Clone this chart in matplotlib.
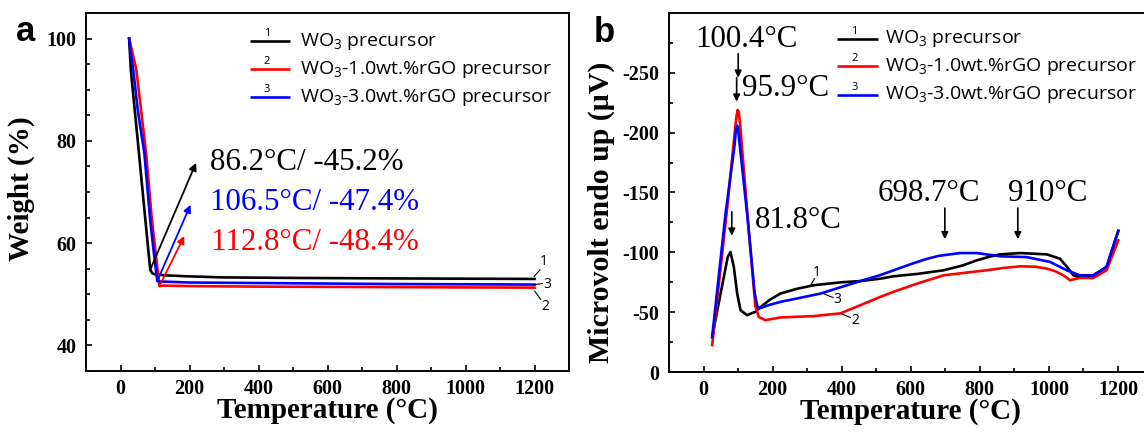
import matplotlib
matplotlib.use("Agg")
import matplotlib.pyplot as plt

SERIF = "Liberation Serif"
SANS = "Open Sans"

plt.rcParams["mathtext.fontset"] = "custom"
plt.rcParams["mathtext.rm"] = "Open Sans"
plt.rcParams["mathtext.it"] = "Open Sans"

# ---------------- (a) TGA data ----------------
tga_wo3_T = [25, 30, 50, 70, 86.2, 92, 100, 130, 200, 300, 500, 800, 1200]
tga_wo3_W = [100, 93.8, 80.0, 66.0, 54.8, 54.1, 53.9, 53.7, 53.5, 53.3, 53.2, 53.1, 53.0]

tga_rgo1_T = [25, 32, 46, 60, 74, 91, 103, 112.8, 125, 200, 400, 800, 1200]
tga_rgo1_W = [100, 98.0, 93.9, 85.8, 77.7, 64.6, 57.4, 51.6, 51.7, 51.6, 51.5, 51.4, 51.3]

tga_rgo3_T = [25, 30, 37, 50, 69, 86, 96, 106.5, 115, 200, 400, 800, 1200]
tga_rgo3_W = [100, 97.0, 93.9, 86.0, 77.7, 64.6, 58.5, 52.6, 52.5, 52.3, 52.2, 52.0, 51.9]

tga_onset_T = [86.2, 106.5, 112.8]
tga_loss = [45.2, 47.4, 48.4]

# ---------------- (b) DTA data ----------------
dta_wo3_T = [25, 47, 70, 78, 87.7, 97.4, 107, 126, 150, 160, 190, 223, 270, 319,
             400, 454, 512, 550, 620, 695, 750, 791, 830, 859, 917, 994, 1032, 1052,
             1071, 1090, 1129, 1167, 1201]
dta_wo3_V = [-29, -62, -96, -100.3, -87.8, -65.6, -51.7, -47.5, -50.3, -53, -60, -65.6,
             -69.5, -72.5, -75, -76, -78, -80, -82, -85, -89, -93.3, -96.5, -98.3, -99.4,
             -98.3, -94.7, -88, -80.8, -79, -80.8, -87.8, -118]

dta_rgo1_T = [25, 68.5, 92, 96, 99, 102, 106, 127, 150, 160, 179, 223, 319, 396,
              454, 512, 550, 620, 695, 760, 820, 870, 917, 960, 994, 1020, 1042,
              1061, 1090, 1129, 1167, 1201]
dta_rgo1_V = [-22.5, -137, -205, -215, -219, -217, -207, -132, -55, -46, -43.3, -45.6,
              -46.7, -49, -55.8, -62.8, -67, -74, -80.8, -83, -85, -87, -88.3, -88,
              -86.4, -84, -80.8, -76.7, -78.6, -78.6, -85, -110]

dta_rgo3_T = [25, 63.6, 90, 94, 97.4, 100, 104, 127, 148, 155, 160, 190, 223, 338,
              454, 512, 560, 599, 640, 680, 743, 791, 859, 936, 1003, 1052, 1090,
              1129, 1167, 1201]
dta_rgo3_V = [-29.4, -132, -190, -203, -206, -204, -192, -130, -66, -56, -53, -56,
              -58.6, -65.5, -76, -81, -86, -90, -94, -97, -99.4, -99.4, -96.7, -96,
              -92, -85, -80.8, -80.8, -87.8, -118]

dta_peak_T = [100.4, 95.9, 81.8, 698.7, 910]

# ---------------- axes ticks ----------------
x_ticks = [0, 200, 400, 600, 800, 1000, 1200]
x_minor = [-100, 100, 300, 500, 700, 900, 1100, 1300]
a_y_ticks = [40, 60, 80, 100]
a_y_minor = [35, 45, 50, 55, 65, 70, 75, 85, 90, 95, 105]
b_y_ticks = [0, -50, -100, -150, -200, -250]
b_y_minor = [-25, -75, -125, -175, -225, -275]

series_names = [r"WO$_{\mathregular{3}}$ precursor",
                r"WO$_{\mathregular{3}}$-1.0wt.%rGO precursor",
                r"WO$_{\mathregular{3}}$-3.0wt.%rGO precursor"]
series_tags = ["1", "2", "3"]
colors = ["#000000", "#ff0000", "#0000ff"]

LW = 1.9
TICKFONT = dict(fontfamily=SERIF, fontweight="bold", fontsize=14.5)
LABELFONT = dict(family=SERIF, weight="bold", fontsize=21)
NOTEFONT = dict(family=SERIF, weight="normal", fontsize=22.3)

fig = plt.figure(figsize=(11.44, 4.34), dpi=100)
axA = fig.add_axes([86 / 1144, 63 / 434, 483 / 1144, 358 / 434])
axB = fig.add_axes([669 / 1144, 62 / 434, 483.5 / 1144, 359 / 434])


def style_axis(ax, yt, ym):
    ax.set_xticks(x_ticks, labels=[str(v) for v in x_ticks], **TICKFONT)
    ax.set_xticks(x_minor, minor=True)
    ax.set_yticks(yt, labels=[str(v) for v in yt], **TICKFONT)
    ax.set_yticks(ym, minor=True)
    for sp in ax.spines.values():
        sp.set_linewidth(1.4)
    ax.tick_params(which="both", direction="in", top=False, right=False, width=1.2)
    ax.tick_params(which="major", length=4.2)
    ax.tick_params(axis="x", which="major", pad=5.5)
    ax.tick_params(axis="y", which="major", pad=7)
    ax.tick_params(which="minor", length=2.6)


def draw_legend(ax, x0, x1, xt, ys):
    for name, tag, c, y in zip(series_names, series_tags, colors, ys):
        ax.plot([x0, x1], [y, y], color=c, lw=LW, transform=ax.transAxes,
                clip_on=False, solid_capstyle="butt")
        ax.text((x0 + x1) / 2 - 0.006, y + 0.006, tag, transform=ax.transAxes,
                fontsize=8, family=SANS, weight="normal", ha="center", va="bottom")
        ax.text(xt, y, name, transform=ax.transAxes, fontsize=14, family=SANS,
                weight="normal", ha="left", va="center")


# ---------------- panel (a) ----------------
for T, W, c in zip([tga_wo3_T, tga_rgo1_T, tga_rgo3_T],
                   [tga_wo3_W, tga_rgo1_W, tga_rgo3_W], colors):
    axA.plot(T, W, color=c, lw=LW, solid_joinstyle="round")

style_axis(axA, a_y_ticks, a_y_minor)
axA.set_xlim(-100, 1300)
axA.set_ylim(35, 105)
axA.set_xlabel("Temperature (°C)", labelpad=-1, **LABELFONT)
axA.set_ylabel("Weight (%)", **LABELFONT)
axA.yaxis.set_label_coords(-0.106, 0.51)

# onset arrows and labels (black, blue, red order)
arrow_tips = [(219, 75.7), (203, 67.5), (185, 61.4)]
label_pos = [(259, 75.8), (259, 67.9), (263, 60.1)]
for i, ci in enumerate([0, 2, 1]):
    T0 = tga_onset_T[i]
    loss = tga_loss[i]
    c = colors[ci]
    axA.annotate("", xy=arrow_tips[i], xytext=(T0, 100 - loss),
                 arrowprops=dict(arrowstyle="-|>", color=c, lw=1.3,
                                 mutation_scale=11, shrinkA=0, shrinkB=0))
    axA.text(label_pos[i][0], label_pos[i][1], f"{T0}°C/ -{loss}%", color=c,
             ha="left", va="center", **NOTEFONT)

# curve tags at the right end
for tag, (p0, p1, pt) in zip(["1", "3", "2"],
                             [((1199, 53.5), (1216, 54.8), (1228, 56.5)),
                              ((1201, 51.9), (1223, 52.1), (1237, 52.0)),
                              ((1201, 50.6), (1218, 49.0), (1232, 47.7))]):
    axA.plot([p0[0], p1[0]], [p0[1], p1[1]], color="black", lw=0.8)
    axA.text(pt[0], pt[1], tag, family=SANS, weight="normal", fontsize=10,
             ha="center", va="center")

draw_legend(axA, 0.3395, 0.4224, 0.443, [0.921, 0.843, 0.765])

# ---------------- panel (b) ----------------
for T, V, c in zip([dta_wo3_T, dta_rgo1_T, dta_rgo3_T],
                   [dta_wo3_V, dta_rgo1_V, dta_rgo3_V], colors):
    axB.plot(T, V, color=c, lw=LW, solid_joinstyle="round")

style_axis(axB, b_y_ticks, b_y_minor)
axB.set_xlim(-100, 1300)
axB.set_ylim(0, -300)
axB.set_xlabel("Temperature (°C)", labelpad=-1, **LABELFONT)
axB.set_ylabel("Microvolt endo up (μV)", family=SERIF, weight="bold", fontsize=21.5)
axB.yaxis.set_label_coords(-0.112, 0.446)

arrow_kw = dict(arrowstyle="-|>", color="black", lw=1.2, mutation_scale=10,
                shrinkA=0, shrinkB=0)
# 100.4 °C
axB.annotate("", xy=(dta_peak_T[0], -246), xytext=(dta_peak_T[0], -266), arrowprops=arrow_kw)
axB.text(124, -278, f"{dta_peak_T[0]}°C", ha="center", va="center", **NOTEFONT)
# 95.9 °C
axB.annotate("", xy=(dta_peak_T[1], -226), xytext=(dta_peak_T[1], -246), arrowprops=arrow_kw)
axB.text(110, -237, f"{dta_peak_T[1]}°C", ha="left", va="center", **NOTEFONT)
# 81.8 °C
axB.annotate("", xy=(dta_peak_T[2], -114), xytext=(dta_peak_T[2], -134), arrowprops=arrow_kw)
axB.text(150, -127, f"{dta_peak_T[2]}°C", ha="left", va="center", **NOTEFONT)
# 698.7 °C and 910 °C
for T_pk, tx in zip(dta_peak_T[3:], [653, 996]):
    axB.annotate("", xy=(T_pk, -111), xytext=(T_pk, -137), arrowprops=arrow_kw)
    axB.text(tx, -149, f"{T_pk:g}°C", ha="center", va="center", **NOTEFONT)

# curve tags
for tag, (p0, p1, pt) in zip(["1", "3", "2"],
                             [((309, -71.7), (321, -78), (329, -83)),
                              ((346, -65.6), (375, -62.2), (388, -61)),
                              ((396, -49), (425, -45.6), (440, -43))]):
    axB.plot([p0[0], p1[0]], [p0[1], p1[1]], color="black", lw=0.8)
    axB.text(pt[0], pt[1], tag, family=SANS, weight="normal", fontsize=10,
             ha="center", va="center")

draw_legend(axB, 0.3475, 0.4323, 0.4468, [0.928, 0.851, 0.772])

# panel letters
fig.text(16 / 1144, 1 - 41 / 434, "a", family="Liberation Sans", weight="bold",
         fontsize=25, ha="left", va="baseline")
fig.text(594 / 1144, 1 - 42 / 434, "b", family="Liberation Sans", weight="bold",
         fontsize=25, ha="left", va="baseline")

fig.savefig("out.png", dpi=100)
